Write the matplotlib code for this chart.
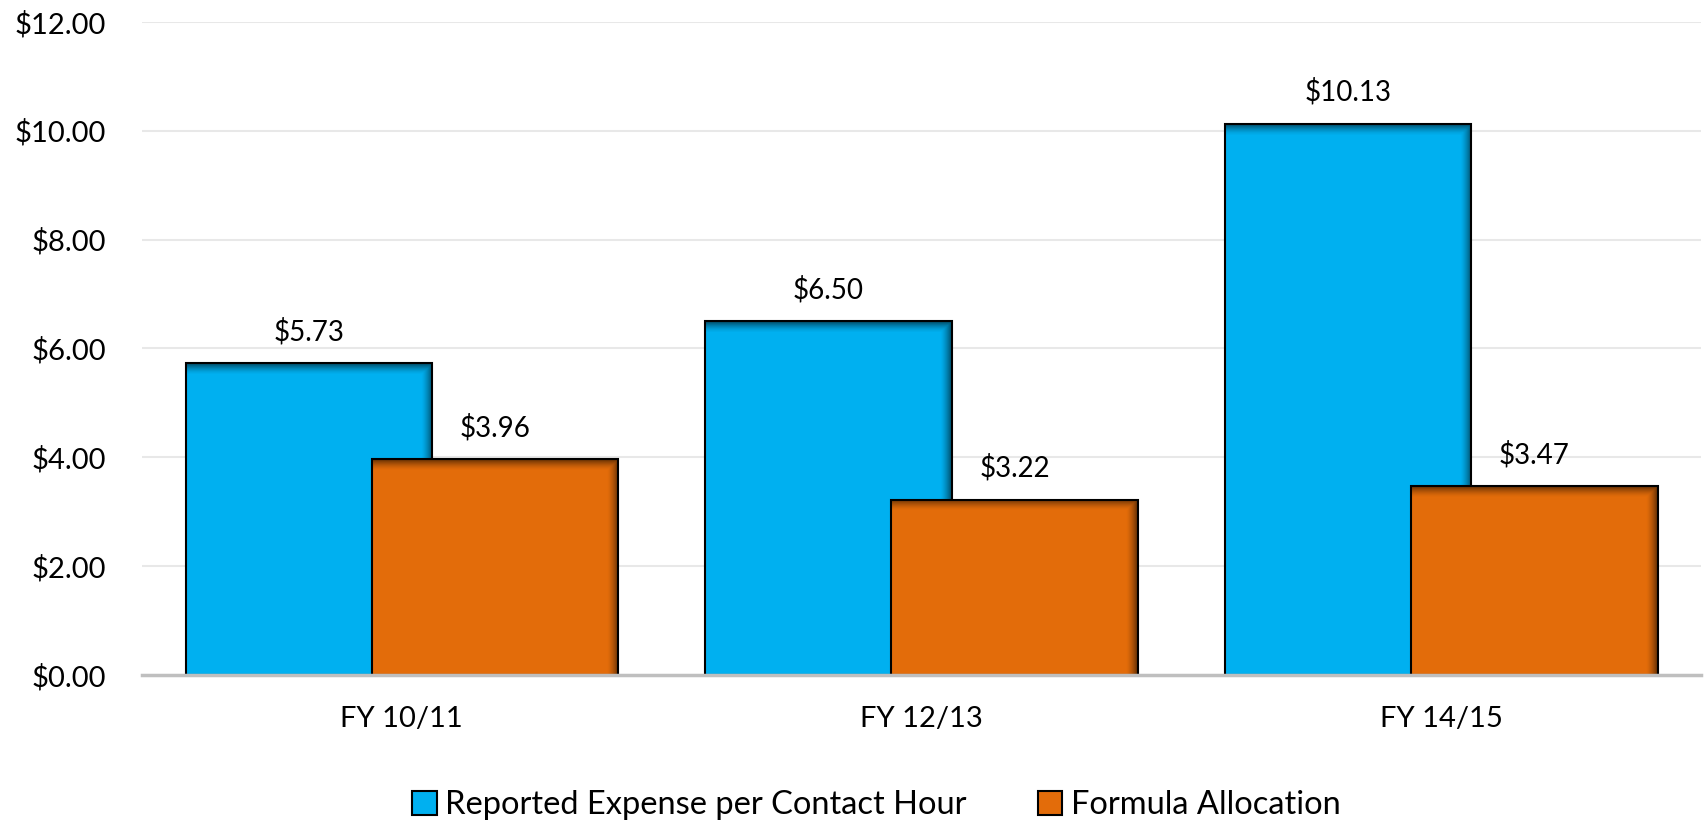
import numpy as np
import matplotlib.pyplot as plt
from matplotlib.patches import Rectangle, Patch

plt.rcParams['font.family'] = ['Lato', 'DejaVu Sans']

categories = ['FY 10/11', 'FY 12/13', 'FY 14/15']
reported = [5.73, 6.50, 10.13]
formula = [3.96, 3.22, 3.47]
series_names = ['Reported Expense per Contact Hour', 'Formula Allocation']
colors = ['#00b0f0', '#e36c0a']

fig = plt.figure(figsize=(17.08, 8.21), dpi=100)
ax = fig.add_axes([0.0831, 0.1778, 0.9129, 0.7956])

x = np.arange(len(categories))
width = 0.474
offset = 0.179


def shaded_bar(ax, xc, h, color, z):
    x0 = xc - width / 2
    face = Rectangle((x0, 0), width, h, facecolor=color, edgecolor='none', zorder=z)
    ax.add_patch(face)
    # inner shadow along top and right edges
    nx, ny = 200, 200
    fx = np.linspace(0, 1, nx)
    fy = np.linspace(0, 1, ny)
    sx = 0.022 / width
    sy = 0.2 / h
    right = np.clip((fx - (1 - sx)) / sx, 0, 1)
    top = np.clip((fy - (1 - sy)) / sy, 0, 1)
    alpha = np.maximum(top[:, None], right[None, :]) ** 1.5 * 0.55
    img = np.zeros((ny, nx, 4))
    img[..., 3] = alpha
    im = ax.imshow(img, extent=(x0, x0 + width, 0, h), origin='lower',
                   aspect='auto', interpolation='bilinear', zorder=z + 0.1)
    im.set_clip_path(face)
    ax.add_patch(Rectangle((x0, 0), width, h, fill=False, edgecolor='black',
                           linewidth=1.5, zorder=z + 0.2))


for i in range(len(categories)):
    shaded_bar(ax, x[i] - offset, reported[i], colors[0], 2)
    ax.text(x[i] - offset, reported[i] + 0.33, f'${reported[i]:.2f}',
            ha='center', va='bottom', fontsize=20, zorder=5)
    shaded_bar(ax, x[i] + offset, formula[i], colors[1], 3)
    ax.text(x[i] + offset, formula[i] + 0.33, f'${formula[i]:.2f}',
            ha='center', va='bottom', fontsize=20, zorder=5)

ax.set_xlim(-0.5, len(categories) - 0.5)
ax.set_ylim(0, 12)
ax.set_yticks(np.arange(0, 12.1, 2))
ax.set_yticklabels([f'${v:.2f}' for v in np.arange(0, 12.1, 2)])
ax.set_xticks(x)
ax.set_xticklabels(categories)
ax.tick_params(axis='both', length=0, labelsize=21)
ax.tick_params(axis='y', pad=26)
ax.tick_params(axis='x', pad=22)
ax.yaxis.grid(True, color='#e8e8e8', linewidth=1.5)
ax.set_axisbelow(True)
for side in ['top', 'right', 'left']:
    ax.spines[side].set_visible(False)
ax.spines['bottom'].set_color('#bfbfbf')
ax.spines['bottom'].set_linewidth(2.5)
ax.spines['bottom'].set_zorder(4)

handles = [Patch(facecolor=c, edgecolor='black', linewidth=1.5) for c in colors]
fig.legend(handles, series_names, loc='lower center', ncol=2, frameon=False,
           fontsize=23.5, bbox_to_anchor=(0.513, -0.035), handlelength=0.75,
           handleheight=0.75, handletextpad=0.25, columnspacing=2.2)

fig.savefig('out.png', dpi=100, facecolor='white')
